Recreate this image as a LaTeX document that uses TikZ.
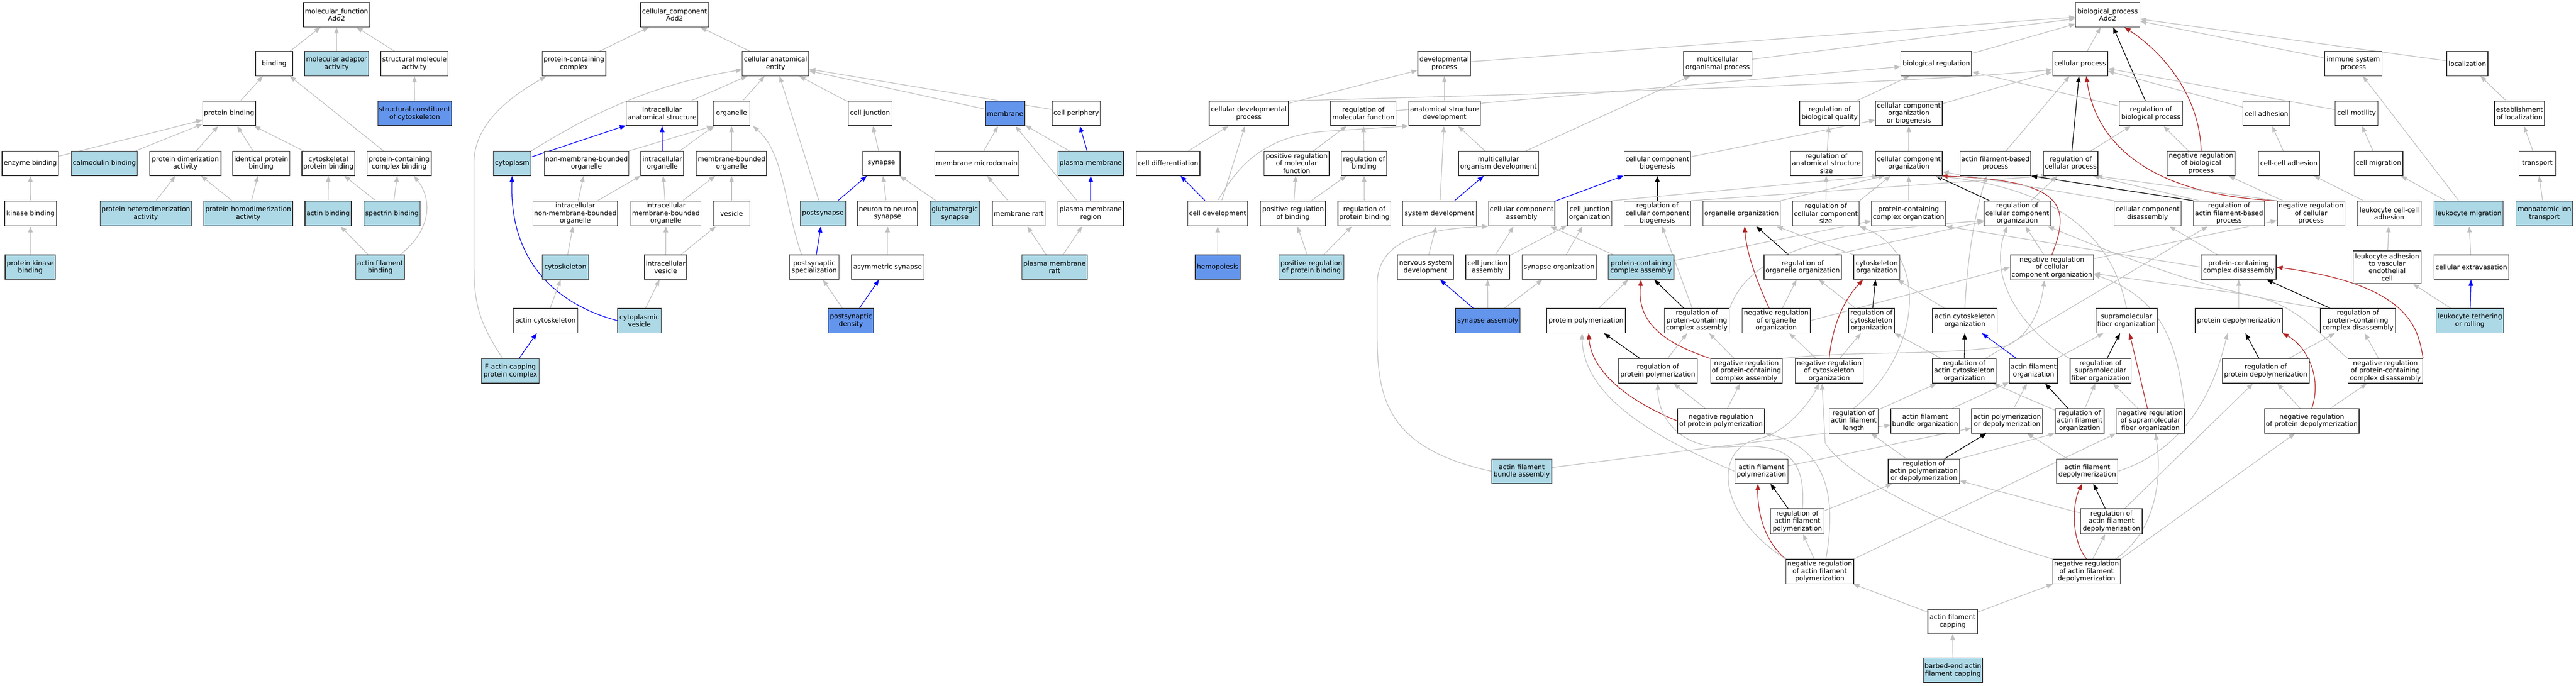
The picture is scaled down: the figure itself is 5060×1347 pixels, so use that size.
\documentclass[tikz,border=0pt]{standalone}
\usepackage{fontspec}
\setmainfont{DejaVu Sans}
\usetikzlibrary{arrows.meta}
\definecolor{lb}{RGB}{173,216,230}
\definecolor{cbl}{RGB}{100,149,237}
\definecolor{eg}{RGB}{192,192,192}
\definecolor{er}{RGB}{178,34,34}
\definecolor{bd}{RGB}{50,50,50}
\pgfdeclarelayer{bg}
\pgfsetlayers{bg,main}
\newcommand{\gn}[7]{\node[gobox,#2,minimum width={(#4-#3)*1pt},minimum height={(#6-#5)*1pt}] (#1) at ({(#3+#4)/2},{(#5+#6)/2}) {#7};}
\newcommand{\edg}[3][ge]{\draw[#1] (#2) -- (#3);}
\begin{document}
\begin{tikzpicture}[x=1pt,y=-1pt,
  gobox/.style={draw=bd,line width=1.4pt,inner sep=0pt,align=center,font=\fontsize{13}{14.5}\selectfont},
  nw/.style={fill=white}, nl/.style={fill=lb}, nc/.style={fill=cbl},
  ge/.style={draw=eg,line width=1.3pt,-{Triangle[length=12pt,width=9pt]}},
  be/.style={ge,draw=blue},
  ke/.style={ge,draw=black},
  re/.style={ge,draw=er}]
\useasboundingbox (0,0) rectangle (5060,1347);
% ---------------- molecular function
\gn{mf}{nw}{596}{726}{5}{53}{molecular\_function\\Add2}
\gn{bind}{nw}{502}{575}{101}{149}{binding}
\gn{mad}{nl}{598}{724}{101}{149}{molecular adaptor\\activity}
\gn{sma}{nw}{748}{880}{101}{149}{structural molecule\\activity}
\gn{scc}{nc}{742}{887}{199}{247}{structural constituent\\of cytoskeleton}
\gn{pb}{nw}{398}{502}{199}{247}{protein binding}
\gn{enzb}{nw}{4}{115}{297}{345}{enzyme binding}
\gn{calb}{nl}{140}{270}{297}{345}{calmodulin binding}
\gn{pda}{nw}{294}{434}{297}{345}{protein dimerization\\activity}
\gn{ipb}{nw}{457}{569}{297}{345}{identical protein\\binding}
\gn{cpb}{nw}{593}{697}{297}{345}{cytoskeletal\\protein binding}
\gn{pccb}{nw}{721}{847}{297}{345}{protein-containing\\complex binding}
\gn{kinb}{nw}{9}{111}{395}{444}{kinase binding}
\gn{phda}{nl}{197}{376}{395}{444}{protein heterodimerization\\activity}
\gn{pmda}{nl}{400}{575}{395}{444}{protein homodimerization\\activity}
\gn{actb}{nl}{599}{690}{395}{444}{actin binding}
\gn{spb}{nl}{715}{825}{395}{444}{spectrin binding}
\gn{pkb}{nl}{10}{109}{501}{549}{protein kinase\\binding}
\gn{afb}{nl}{699}{795}{501}{549}{actin filament\\binding}
% ---------------- cellular component
\gn{cc}{nw}{1258}{1392}{5}{53}{cellular\_component\\Add2}
\gn{pcc}{nw}{1065}{1190}{101}{149}{protein-containing\\complex}
\gn{cae}{nw}{1458}{1589}{101}{149}{cellular anatomical\\entity}
\gn{ias}{nw}{1230}{1371}{199}{247}{intracellular\\anatomical structure}
\gn{org}{nw}{1401}{1473}{199}{247}{organelle}
\gn{cj}{nw}{1666}{1752}{199}{247}{cell junction}
\gn{mem}{nc}{1936}{2013}{199}{247}{membrane}
\gn{cper}{nw}{2067}{2161}{199}{247}{cell periphery}
\gn{cyto}{nl}{969}{1043}{297}{345}{cytoplasm}
\gn{nmbo}{nw}{1069}{1235}{297}{345}{non-membrane-bounded\\organelle}
\gn{io}{nw}{1259}{1343}{297}{345}{intracellular\\organelle}
\gn{mbo}{nw}{1368}{1506}{297}{345}{membrane-bounded\\organelle}
\gn{syn}{nw}{1695}{1768}{297}{345}{synapse}
\gn{mmd}{nw}{1836}{2001}{297}{345}{membrane microdomain}
\gn{pm}{nl}{2078}{2207}{297}{345}{plasma membrane}
\gn{inmbo}{nw}{1047}{1213}{395}{444}{intracellular\\non-membrane-bounded\\organelle}
\gn{imbo}{nw}{1239}{1377}{395}{444}{intracellular\\membrane-bounded\\organelle}
\gn{ves}{nw}{1401}{1473}{395}{444}{vesicle}
\gn{psyn}{nl}{1572}{1661}{395}{444}{postsynapse}
\gn{nns}{nw}{1685}{1802}{395}{444}{neuron to neuron\\synapse}
\gn{glu}{nl}{1827}{1924}{395}{444}{glutamatergic\\synapse}
\gn{mraft}{nw}{1949}{2053}{395}{444}{membrane raft}
\gn{pmr}{nw}{2078}{2207}{395}{444}{plasma membrane\\region}
\gn{csk}{nl}{1065}{1156}{501}{549}{cytoskeleton}
\gn{iv}{nw}{1266}{1349}{501}{549}{intracellular\\vesicle}
\gn{pss}{nw}{1551}{1648}{501}{549}{postsynaptic\\specialization}
\gn{asyn}{nw}{1672}{1815}{501}{549}{asymmetric synapse}
\gn{pmraft}{nl}{2007}{2136}{501}{549}{plasma membrane\\raft}
\gn{acsk}{nw}{1008}{1135}{606}{654}{actin cytoskeleton}
\gn{cv}{nl}{1213}{1299}{606}{654}{cytoplasmic\\vesicle}
\gn{psd}{nc}{1627}{1716}{606}{654}{postsynaptic\\density}
\gn{fac}{nl}{946}{1059}{705}{753}{F-actin capping\\protein complex}
% ---------------- biological process
\gn{bp}{nw}{4077}{4203}{5}{53}{biological\_process\\Add2}
\gn{dp}{nw}{2785}{2889}{101}{149}{developmental\\process}
\gn{mop}{nw}{3307}{3441}{101}{149}{multicellular\\organismal process}
\gn{br}{nw}{3734}{3873}{101}{149}{biological regulation}
\gn{cp}{nw}{4032}{4140}{101}{149}{cellular process}
\gn{isp}{nw}{4566}{4679}{101}{149}{immune system\\process}
\gn{loc}{nw}{4806}{4887}{101}{149}{localization}
\gn{cdp}{nw}{2375}{2531}{199}{247}{cellular developmental\\process}
\gn{rmf}{nw}{2614}{2742}{199}{247}{regulation of\\molecular function}
\gn{asd}{nw}{2767}{2908}{199}{247}{anatomical structure\\development}
\gn{rbq}{nw}{3535}{3653}{199}{247}{regulation of\\biological quality}
\gn{ccob}{nw}{3684}{3815}{199}{247}{cellular component\\organization\\or biogenesis}
\gn{rbp}{nw}{4163}{4287}{199}{247}{regulation of\\biological process}
\gn{cadh}{nw}{4406}{4498}{199}{247}{cell adhesion}
\gn{cmot}{nw}{4587}{4671}{199}{247}{cell motility}
\gn{eloc}{nw}{4900}{4998}{199}{247}{establishment\\of localization}
\gn{cdiff}{nw}{2232}{2357}{297}{345}{cell differentiation}
\gn{prmf}{nw}{2483}{2611}{297}{345}{positive regulation\\of molecular\\function}
\gn{rb}{nw}{2635}{2724}{297}{345}{regulation of\\binding}
\gn{mod}{nw}{2865}{3022}{297}{345}{multicellular\\organism development}
\gn{ccb}{nw}{3190}{3321}{297}{345}{cellular component\\biogenesis}
\gn{rass}{nw}{3517}{3658}{297}{345}{regulation of\\anatomical structure\\size}
\gn{cco}{nw}{3684}{3815}{297}{345}{cellular component\\organization}
\gn{afbp}{nw}{3850}{3989}{297}{345}{actin filament-based\\process}
\gn{rcp}{nw}{4014}{4121}{297}{345}{regulation of\\cellular process}
\gn{nrbp}{nw}{4257}{4390}{297}{345}{negative regulation\\of biological\\process}
\gn{ccadh}{nw}{4436}{4556}{297}{345}{cell-cell adhesion}
\gn{cmig}{nw}{4624}{4720}{297}{345}{cell migration}
\gn{trans}{nw}{4948}{5020}{297}{345}{transport}
\gn{cdev}{nw}{2333}{2451}{395}{444}{cell development}
\gn{prb}{nw}{2476}{2604}{395}{444}{positive regulation\\of binding}
\gn{rpb}{nw}{2628}{2732}{395}{444}{regulation of\\protein binding}
\gn{sd}{nw}{2755}{2900}{395}{444}{system development}
\gn{cca}{nw}{2924}{3054}{395}{444}{cellular component\\assembly}
\gn{cjo}{nw}{3079}{3166}{395}{444}{cell junction\\organization}
\gn{rccb}{nw}{3190}{3321}{395}{444}{regulation of\\cellular component\\biogenesis}
\gn{oo}{nw}{3345}{3497}{395}{444}{organelle organization}
\gn{rccs}{nw}{3521}{3652}{395}{444}{regulation of\\cellular component\\size}
\gn{pco}{nw}{3676}{3822}{395}{444}{protein-containing\\complex organization}
\gn{rcco}{nw}{3897}{4028}{395}{444}{regulation of\\cellular component\\organization}
\gn{ccd}{nw}{4153}{4284}{395}{444}{cellular component\\disassembly}
\gn{rafbp}{nw}{4309}{4448}{395}{444}{regulation of\\actin filament-based\\process}
\gn{nrcp}{nw}{4473}{4606}{395}{444}{negative regulation\\of cellular\\process}
\gn{lcca}{nw}{4630}{4756}{395}{444}{leukocyte cell-cell\\adhesion}
\gn{lmig}{nl}{4781}{4917}{395}{444}{leukocyte migration}
\gn{mit}{nl}{4942}{5054}{395}{444}{monoatomic ion\\transport}
\gn{hemo}{nc}{2348}{2436}{501}{549}{hemopoiesis}
\gn{prpb}{nl}{2512}{2640}{501}{549}{positive regulation\\of protein binding}
\gn{nsd}{nw}{2745}{2855}{501}{549}{nervous system\\development}
\gn{cja}{nw}{2879}{2965}{501}{549}{cell junction\\assembly}
\gn{so}{nw}{2990}{3135}{501}{549}{synapse organization}
\gn{pca}{nl}{3159}{3288}{501}{549}{protein-containing\\complex assembly}
\gn{roo}{nw}{3465}{3617}{501}{549}{regulation of\\organelle organization}
\gn{csko}{nw}{3641}{3732}{501}{549}{cytoskeleton\\organization}
\gn{nrcco}{nw}{3949}{4112}{501}{550}{negative regulation\\of cellular\\component organization}
\gn{pcd}{nw}{4324}{4471}{501}{549}{protein-containing\\complex disassembly}
\gn{lavec}{nw}{4622}{4756}{493}{557}{leukocyte adhesion\\to vascular\\endothelial\\cell}
\gn{cext}{nw}{4781}{4928}{501}{549}{cellular extravasation}
\gn{sa}{nc}{2859}{2986}{606}{654}{synapse assembly}
\gn{pp}{nw}{3038}{3193}{606}{654}{protein polymerization}
\gn{rpcca}{nw}{3269}{3397}{606}{654}{regulation of\\protein-containing\\complex assembly}
\gn{nroo}{nw}{3422}{3556}{606}{654}{negative regulation\\of organelle\\organization}
\gn{rco}{nw}{3631}{3721}{606}{654}{regulation of\\cytoskeleton\\organization}
\gn{aco}{nw}{3796}{3923}{606}{654}{actin cytoskeleton\\organization}
\gn{sfo}{nw}{4117}{4237}{606}{654}{supramolecular\\fiber organization}
\gn{pd}{nw}{4312}{4483}{606}{654}{protein depolymerization}
\gn{rpcd}{nw}{4558}{4705}{606}{654}{regulation of\\protein-containing\\complex disassembly}
\gn{ltr}{nl}{4785}{4918}{606}{654}{leukocyte tethering\\or rolling}
\gn{rpp}{nw}{3179}{3334}{705}{753}{regulation of\\protein polymerization}
\gn{nrpcca}{nw}{3360}{3501}{705}{753}{negative regulation\\of protein-containing\\complex assembly}
\gn{nrco}{nw}{3526}{3660}{705}{753}{negative regulation\\of cytoskeleton\\organization}
\gn{raco}{nw}{3796}{3921}{705}{753}{regulation of\\actin cytoskeleton\\organization}
\gn{afo}{nw}{3947}{4042}{705}{753}{actin filament\\organization}
\gn{rsfo}{nw}{4066}{4186}{705}{753}{regulation of\\supramolecular\\fiber organization}
\gn{rpd}{nw}{4365}{4536}{705}{753}{regulation of\\protein depolymerization}
\gn{nrpccd}{nw}{4612}{4759}{705}{753}{negative regulation\\of protein-containing\\complex disassembly}
\gn{nrpp}{nw}{3295}{3466}{803}{851}{negative regulation\\of protein polymerization}
\gn{rafl}{nw}{3593}{3689}{803}{851}{regulation of\\actin filament\\length}
\gn{afbo}{nw}{3714}{3849}{803}{851}{actin filament\\bundle organization}
\gn{apd}{nw}{3873}{4012}{803}{851}{actin polymerization\\or depolymerization}
\gn{rafo}{nw}{4037}{4133}{803}{851}{regulation of\\actin filament\\organization}
\gn{nrsfo}{nw}{4157}{4291}{803}{851}{negative regulation\\of supramolecular\\fiber organization}
\gn{nrpd}{nw}{4448}{4634}{803}{851}{negative regulation\\of protein depolymerization}
\gn{afba}{nl}{2930}{3048}{902}{950}{actin filament\\bundle assembly}
\gn{afp}{nw}{3408}{3512}{902}{950}{actin filament\\polymerization}
\gn{rapd}{nw}{3709}{3849}{902}{950}{regulation of\\actin polymerization\\or depolymerization}
\gn{afd}{nw}{4040}{4160}{902}{950}{actin filament\\depolymerization}
\gn{rafp}{nw}{3478}{3583}{1000}{1049}{regulation of\\actin filament\\polymerization}
\gn{rafd}{nw}{4087}{4208}{1000}{1049}{regulation of\\actin filament\\depolymerization}
\gn{nrafp}{nw}{3508}{3641}{1099}{1147}{negative regulation\\of actin filament\\polymerization}
\gn{nrafd}{nw}{4032}{4165}{1099}{1147}{negative regulation\\of actin filament\\depolymerization}
\gn{afc}{nw}{3787}{3884}{1197}{1245}{actin filament\\capping}
\gn{beafc}{nl}{3778}{3894}{1293}{1341}{barbed-end actin\\filament capping}
\begin{pgfonlayer}{bg}
\fill[white] (0,0) rectangle (5060,1347);
% MF edges
\edg{bind}{mf}\edg{mad}{mf}\edg{sma}{mf}\edg{scc}{sma}\edg{pb}{bind}\edg{pccb}{bind}
\edg{enzb}{pb}\edg{calb}{pb}\edg{pda}{pb}\edg{ipb}{pb}\edg{cpb}{pb}
\edg{kinb}{enzb}\edg{pkb}{kinb}\edg{phda}{pda}\edg{pmda}{pda}\edg{pmda}{ipb}
\edg{actb}{cpb}\edg{spb}{cpb}\edg{spb}{pccb}\edg{afb}{actb}
\draw[ge] ([xshift=39pt]afb.north) .. controls (850,450) and (848,390) .. ([xshift=29pt]pccb.south);
% CC edges
\edg{pcc}{cc}\edg{cae}{cc}
\draw[ge] ([xshift=-15pt]fac.north) .. controls (931,620) and (931,580) .. (931,500) -- (931,320) .. controls (931,230) and (1030,175) .. ([xshift=-55pt]pcc.south);
\draw[ge] (cyto.north east) .. controls (1120,250) and (1250,170) .. ([yshift=-12pt]cae.west);
\edg[be]{cyto}{ias}\edg{ias}{cae}\edg{org}{cae}\edg{cj}{cae}\edg{psyn}{cae}\edg{mem}{cae}\edg{cper}{cae}
\draw[ge] (nmbo.north east) -- (org.south west);
\edg{io}{org}\edg[be]{io}{ias}\edg{mbo}{org}
\draw[ge] ([xshift=-25pt]pss.north) .. controls (1540,400) and (1540,300) .. ([xshift=42pt]org.south);
\edg{inmbo}{nmbo}\edg{inmbo}{io}\edg{imbo}{io}\edg{imbo}{mbo}\edg{ves}{mbo}
\edg{csk}{inmbo}\edg{iv}{imbo}\edg{iv}{ves}\edg{cv}{iv}
\draw[be] (cv.west) .. controls (1100,600) and (1000,520) .. (cyto.south);
\edg{acsk}{csk}\edg[be]{fac}{acsk}
\edg[be]{pss}{psyn}\edg{psd}{pss}\edg[be]{psd}{asyn}\edg[be]{psyn}{syn}
\edg{syn}{cj}\edg{nns}{syn}\edg{glu}{syn}\edg{asyn}{nns}
\edg{mmd}{mem}\edg{pm}{mem}\edg[be]{pm}{cper}
\draw[ge] ([xshift=-27pt]pmr.north) -- ([xshift=20pt]mem.south);
\edg[be]{pmr}{pm}\edg{mraft}{mmd}\edg{pmraft}{mraft}\edg{pmraft}{pmr}
% BP edges
\edg{dp}{bp}\edg{mop}{bp}\edg{br}{bp}\edg{cp}{bp}\edg[ke]{rbp}{bp}
\draw[re] (nrbp.north) .. controls (4322,200) and (4260,110) .. ([xshift=33pt]bp.south);
\edg{isp}{bp}\edg{loc}{bp}
\edg{cdp}{dp}
\draw[ge] (cdp.north east) .. controls (3000,185) and (3700,168) .. ([yshift=-12pt]cp.west);
\edg{asd}{dp}\edg{rmf}{br}\edg{rbq}{br}\edg{rbp}{br}
\edg{ccob}{cp}\edg{afbp}{cp}\edg[ke]{rcp}{cp}
\draw[re] (nrcp.north west) .. controls (4250,385) and (4120,300) .. ([xshift=12pt]cp.south);
\edg{cadh}{cp}\edg{cmot}{cp}
\edg{cdiff}{cdp}\edg{cdev}{cdp}\edg[be]{cdev}{cdiff}
\draw[ge] (cdev.north) .. controls (2430,330) and (2480,262) .. (2620,257) -- (asd.south west);
\edg{hemo}{cdev}
\edg{prmf}{rmf}\edg{rb}{rmf}\edg{prb}{prmf}\edg{prb}{rb}\edg{rpb}{rb}\edg{prpb}{prb}\edg{prpb}{rpb}
\edg{mod}{asd}\edg{mod}{mop}\edg{sd}{asd}\edg[be]{sd}{mod}\edg{nsd}{sd}
\edg[be]{sa}{nsd}\edg{sa}{cja}\edg{sa}{so}
\edg[be]{cca}{ccb}\edg{cja}{cca}\edg{cja}{cjo}\edg{so}{cjo}\edg{pca}{cca}\edg{pca}{pco}
\draw[ge] (afba.west) .. controls (2720,880) and (2705,780) .. (2705,650) -- (2705,560) .. controls (2705,470) and (2800,450) .. (cca.south west);
\edg{afba}{afbo}\edg{pp}{pca}
\edg{ccb}{ccob}\edg{cco}{ccob}\edg{rass}{rbq}\edg{rccs}{rass}
\draw[ge] (rccs.north east) -- ([xshift=-36pt]cco.south);
\edg[ke]{rccb}{ccb}
\draw[ge] (rccb.north east) -- ([xshift=8pt]rcp.south west);
\draw[ge] (cjo.north east) -- ([xshift=-60pt]cco.south);
\draw[ge] (oo.north east) -- ([xshift=-48pt]cco.south);
\edg{pco}{cco}
\edg{rcp}{rbp}\edg{nrbp}{rbp}\edg{nrcp}{nrbp}
\draw[ge] (nrcp.north west) -- ([xshift=-4pt]rcp.south east);
\draw[ke] (rafbp.north west) -- (afbp.south east);
\draw[ge] ([xshift=12pt]rafbp.north west) -- ([xshift=-10pt]rcp.south east);
\draw[ge] (aco.north) .. controls (3866,480) and (3885,400) .. ([xshift=-17pt]afbp.south);
\edg{aco}{csko}
\edg[ke]{rcco}{cco}\edg{rcco}{rcp}\edg{nrcco}{rcco}
\draw[re] (nrcco.north) .. controls (4070,400) and (4050,355) .. ([xshift=-2pt]cco.south east);
\edg{nrcco}{nrcp}
\draw[ge] (ccd.north west) -- ([yshift=8pt]cco.south east);
\draw[ge] (sfo.north) .. controls (4150,470) and (4050,370) .. ([xshift=-14pt]cco.south east);
\edg{pcd}{ccd}
\draw[ge] (pcd.west) -- (pco.south east);
\edg{pd}{pcd}\edg[ke]{rpcd}{pcd}
\draw[ge] (rpcd.north west) .. controls (4420,585) and (4300,560) .. ([xshift=60pt]rcco.south);
\edg{nrpccd}{rpcd}
\draw[re] (nrpccd.north east) .. controls (4750,650) and (4740,560) .. (pcd.east);
\draw[ge] (nrpccd.north west) .. controls (4540,640) and (4500,590) .. (4400,577) -- ([yshift=-12pt]nrcco.east);
\edg[ke]{rpd}{pd}\edg{rpd}{rpcd}\edg{nrpd}{rpd}
\draw[re] (nrpd.north) .. controls (4562,740) and (4530,680) .. (pd.south east);
\edg{nrpd}{nrpccd}
\edg{ccadh}{cadh}\edg{cmig}{cmot}\edg{eloc}{loc}\edg{trans}{eloc}\edg{lcca}{ccadh}
\edg{lmig}{cmig}\edg{lmig}{isp}\edg{mit}{trans}\edg{lavec}{lcca}\edg{cext}{lmig}
\edg{ltr}{lavec}\edg[be]{ltr}{cext}
\edg[ke]{roo}{oo}
\draw[ge] ([xshift=-14pt]roo.north east) -- ([yshift=-16pt]rcco.west);
\draw[ge] (csko.north west) -- ([xshift=-8pt]oo.south east);
\edg[ke]{rco}{csko}\edg{rco}{roo}\edg{nroo}{roo}
\draw[re] ([xshift=-14pt]nroo.north) .. controls (3445,540) and (3430,490) .. ([xshift=6pt]oo.south);
\draw[ge] (nroo.east) -- (nrcco.west);
\edg[ke]{rpcca}{pca}\edg{rpcca}{rccb}
\draw[ge] (rpcca.north east) .. controls (3440,490) and (3600,455) .. ([yshift=-14pt]rcco.west);
\edg[ke]{rpp}{pp}\edg{rpp}{rpcca}
\draw[re] (nrpp.west) .. controls (3180,780) and (3125,720) .. ([xshift=5pt]pp.south);
\edg{nrpp}{rpp}\edg{nrpp}{nrpcca}\edg{nrpcca}{rpcca}
\draw[re] (nrpcca.north west) .. controls (3262,672) and (3215,630) .. (pca.south);
\draw[ge] (nrpcca.north east) .. controls (3650,688) and (3800,700) .. (3940,680) .. controls (3990,660) and (4010,600) .. ([xshift=-15pt]nrcco.south);
\edg{nrco}{rco}\edg{nrco}{nroo}
\draw[re] (nrco.north) .. controls (3597,660) and (3612,600) .. ([xshift=-27pt]csko.south);
\edg[ke]{raco}{aco}\edg{raco}{rafbp}\edg{raco}{rco}
\edg[be]{afo}{aco}\edg{afo}{sfo}\edg[ke]{rsfo}{sfo}
\draw[ge] (rsfo.north west) .. controls (3990,660) and (3900,560) .. ([xshift=-20pt]rcco.south);
\edg[re]{nrsfo}{sfo}\edg{nrsfo}{rsfo}
\draw[ge] (nrsfo.north east) .. controls (4278,700) and (4262,590) .. ([yshift=-14pt]nrcco.east);
\edg{afbo}{afo}\edg{apd}{afo}\edg[ke]{rafo}{afo}\edg{rafo}{raco}\edg{rafo}{rsfo}
\edg{rafl}{raco}
\draw[ge] (rafl.north) .. controls (3770,700) and (3795,500) .. (rccs.south east);
\edg[ke]{rapd}{apd}
\draw[ge] (rapd.north east) -- (rafo.south west);
\edg{rapd}{rafl}\edg{afp}{apd}
\draw[ge] (afp.west) .. controls (3250,860) and (3110,780) .. ([xshift=-8pt]pp.south);
\edg{afd}{apd}
\draw[ge] (afd.east) .. controls (4300,880) and (4350,760) .. ([xshift=-22pt]pd.south);
\edg[ke]{rafp}{afp}\edg{rafp}{rapd}
\draw[ge] ([xshift=10pt]rafp.north) .. controls (3548,890) and (3500,872) .. (3400,878) .. controls (3300,885) and (3256,820) .. (rpp.south);
\edg[ke]{rafd}{afd}\edg{rafd}{rapd}\edg{rafd}{rpd}
\draw[re] (nrafp.north west) .. controls (3462,1060) and (3452,1000) .. ([xshift=-7pt]afp.south);
\edg{nrafp}{rafp}
\draw[ge] ([xshift=12pt]nrafp.north) .. controls (3608,980) and (3590,880) .. (nrpp.south east);
\draw[ge] (nrafp.north west) .. controls (3370,1010) and (3365,880) .. (3455,862) .. controls (3510,850) and (3555,790) .. ([xshift=-20pt]nrco.south);
\draw[ge] (nrafp.north east) -- (nrsfo.south west);
\draw[re] (nrafd.north) .. controls (4068,1060) and (4070,990) .. ([xshift=-10pt]afd.south);
\edg{nrafd}{rafd}
\draw[ge] ([xshift=-10pt]nrafd.north east) .. controls (4240,1040) and (4246,930) .. ([xshift=10pt]nrsfo.south);
\draw[ge] (nrafd.north east) -- ([xshift=-33pt]nrpd.south);
\draw[ge] (nrafd.north west) .. controls (3800,1030) and (3620,930) .. (3585,870) -- ([xshift=-14pt]nrco.south);
\edg{afc}{nrafp}\edg{afc}{nrafd}\edg{beafc}{afc}
\end{pgfonlayer}
\end{tikzpicture}
\end{document}
